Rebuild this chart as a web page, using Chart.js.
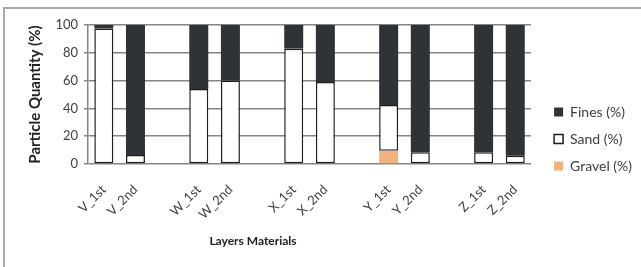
<!DOCTYPE html>
<html>
<head>
<meta charset="utf-8">
<script src="https://cdn.jsdelivr.net/npm/chart.js@4"></script>
<style>
  body { margin: 0; background: #fff; }
  #wrap { position: relative; width: 641px; height: 267px; overflow: hidden; }
  #frame { position: absolute; left: 3px; top: 7px; width: 700px; height: 300px; border: 2px solid #a9a9a9; }
  #chart { position: absolute; left: 0; top: 0; }
</style>
</head>
<body>
<div id="wrap">
  <div id="frame"></div>
  <canvas id="chart" width="641" height="267"></canvas>
</div>
<script>
// layers, with an empty slot between each pair
const labels = ["V_1st", "V_2nd", "", "W_1st", "W_2nd", "", "X_1st", "X_2nd", "", "Y_1st", "Y_2nd", "", "Z_1st", "Z_2nd"]
const gravel = [0, 0, null, 0, 0, null, 0, 0, null, 9.5, 0, null, 0, 0]
const sand = [97.5, 6.5, null, 54, 60, null, 83, 59, null, 33, 8.5, null, 8.5, 6]
const fines = [2.5, 93.5, null, 46, 40, null, 17, 41, null, 57.5, 91.5, null, 91.5, 94]

const font = "Lato"
const txt = "#404040"

// push the legend a bit away from the plot, like the original
const legendShift = {
  id: "legendShift",
  afterLayout(chart) {
    chart.legend.left += 10
    chart.legend.right += 10
  }
}

// x axis title sits left of centre in the original
const xTitle = {
  id: "xTitle",
  afterDraw(chart) {
    const ctx = chart.ctx
    ctx.save()
    ctx.font = "bold 12px " + font
    ctx.fillStyle = "#222"
    ctx.textAlign = "center"
    ctx.textBaseline = "middle"
    ctx.fillText("Layers Materials", 253, 241)
    ctx.restore()
  }
}

const chart = new Chart("chart", {
  type: "bar",
  data: {
    labels: labels,
    datasets: [
      {label: "Gravel (%)", data: gravel, backgroundColor: "#f2b27e", borderWidth: 0},
      {label: "Sand (%)", data: sand, backgroundColor: "#ffffff", borderColor: "#1e1e1e", borderWidth: 1.5, borderSkipped: false},
      {label: "Fines (%)", data: fines, backgroundColor: "#2f3237", borderWidth: 0}
    ]
  },
  plugins: [legendShift, xTitle],
  options: {
    responsive: false,
    animation: false,
    layout: {padding: {left: 23, top: 25, bottom: 14, right: 9}},
    datasets: {bar: {categoryPercentage: 1, barPercentage: 0.6}},
    plugins: {
      tooltip: {enabled: false},
      legend: {
        position: "right",
        reverse: true,
        labels: {
          boxWidth: 9, boxHeight: 9, padding: 13, color: txt,
          font: {family: font, size: 14}
        }
      }
    },
    scales: {
      x: {
        stacked: true,
        grid: {display: false, drawTicks: false},
        border: {display: false},
        ticks: {
          autoSkip: false, minRotation: 45, maxRotation: 45, padding: 18,
          color: txt, font: {family: font, size: 13}
        },
        afterFit: s => { s.height = 267 - 14 - 164 }
      },
      y: {
        stacked: true,
        min: 0, max: 100,
        grid: {color: "#858585", lineWidth: 1.5, tickLength: 4},
        border: {color: "#858585", width: 1.5},
        ticks: {stepSize: 20, padding: 6, color: txt, font: {family: font, size: 13}},
        title: {display: true, text: "Particle Quantity (%)", color: "#222", font: {family: font, size: 15, weight: "bold"}, padding: {top: 3, bottom: 4}},
        afterFit: s => { s.width = 88 - 23 }
      }
    }
  }
})
</script>
</body>
</html>
